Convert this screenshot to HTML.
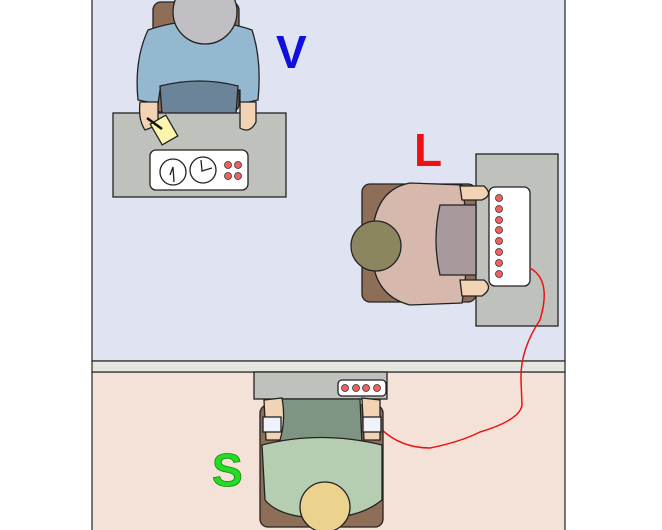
<!DOCTYPE html>
<html><head><style>html,body{margin:0;padding:0;background:#fff}svg{display:block}</style></head><body>
<svg width="662" height="530" viewBox="0 0 662 530" xmlns="http://www.w3.org/2000/svg" stroke="#222" stroke-width="1.3">
<rect x="92" y="-2" width="473" height="363" fill="#dfe3f2" stroke="#333"/>
<rect x="92" y="372" width="473" height="160" fill="#f4e2d8" stroke="#333"/>
<rect x="92" y="361" width="473" height="11" fill="#e4e6e0" stroke="#333"/>
<!-- V -->
<rect x="153" y="2" width="86" height="110" rx="8" fill="#8f6e57"/>
<path d="M148 30 Q200 12 252 30 Q262 60 258 100 L240 104 L240 90 L160 90 L158 104 L138 100 Q134 60 148 30 Z" fill="#93b8cf"/>
<path d="M160 86 Q200 76 238 86 L236 114 L162 114 Z" fill="#6b8499"/>
<circle cx="205" cy="12" r="32" fill="#c0c0c4"/>
<rect x="113" y="113" width="173" height="84" fill="#bfc1bd"/>
<path d="M140 102 Q138 120 145 130 L158 125 L158 102 Z" fill="#f2d4b4"/>
<path d="M240 102 L240 128 Q250 134 256 122 L256 102 Z" fill="#f2d4b4"/>
<rect x="155" y="118" width="18" height="24" fill="#fcf6ad" transform="rotate(-30 164 130)"/>
<line x1="147" y1="118" x2="162" y2="129" stroke="#111" stroke-width="2.5"/>
<rect x="150" y="150" width="98" height="40" rx="6" fill="#fff"/>
<circle cx="173" cy="172" r="13" fill="#fff"/><path d="M170 175 L173 167 L174 182" fill="none"/>
<circle cx="203" cy="170" r="13" fill="#fff"/><path d="M201 160 L202 171 L212 168" fill="none"/>
<g fill="#f06060" stroke="#333" stroke-width="0.8"><circle cx="228" cy="165" r="3.5"/><circle cx="238" cy="165" r="3.5"/><circle cx="228" cy="176" r="3.5"/><circle cx="238" cy="176" r="3.5"/></g>
<text x="276" y="68" font-family="Liberation Sans, sans-serif" font-weight="bold" font-size="46" fill="#1010dd" stroke="none">V</text>
<!-- L -->
<text x="414" y="166" font-family="Liberation Sans, sans-serif" font-weight="bold" font-size="46" fill="#ee1111" stroke="none">L</text>
<rect x="362" y="184" width="114" height="118" rx="8" fill="#8f6e57"/>
<rect x="476" y="154" width="82" height="172" fill="#bfc1bd"/>
<path d="M410 183 L462 185 Q472 245 462 303 L410 305 Q370 295 372 244 Q372 190 410 183 Z" fill="#d6b8ac"/>
<path d="M440 205 L476 205 L476 275 L440 275 Q432 240 440 205 Z" fill="#a8999c"/>
<path d="M460 186 L484 186 Q494 195 482 200 L462 200 Z" fill="#f2d4b4"/>
<path d="M460 280 L484 280 Q494 288 482 296 L462 296 Z" fill="#f2d4b4"/>
<circle cx="376" cy="246" r="25" fill="#8b8560"/>
<rect x="489" y="187" width="41" height="99" rx="6" fill="#fff"/>
<g fill="#f06060" stroke="#333" stroke-width="0.8"><circle cx="499" cy="198" r="3.5"/><circle cx="499" cy="209" r="3.5"/><circle cx="499" cy="220" r="3.5"/><circle cx="499" cy="230" r="3.5"/><circle cx="499" cy="241" r="3.5"/><circle cx="499" cy="252" r="3.5"/><circle cx="499" cy="263" r="3.5"/><circle cx="499" cy="274" r="3.5"/></g>
<path d="M530 268 Q552 280 540 320 Q520 350 521 380 L522 405 Q520 420 480 432 Q460 442 430 448 Q400 448 380 428" fill="none" stroke="#ee1111" stroke-width="1.5"/>
<!-- S -->
<rect x="260" y="405" width="123" height="122" rx="8" fill="#8f6e57"/>
<rect x="254" y="372" width="133" height="27" fill="#bfc1bd"/>
<rect x="338" y="380" width="48" height="16" rx="4" fill="#fff"/>
<g fill="#f06060" stroke="#333" stroke-width="0.8"><circle cx="345" cy="388" r="3.5"/><circle cx="356" cy="388" r="3.5"/><circle cx="366" cy="388" r="3.5"/><circle cx="377" cy="388" r="3.5"/></g>
<path d="M280 399 L360 399 L362 445 L280 445 Z" fill="#7f9483"/>
<path d="M262 445 Q320 430 382 445 L382 500 Q360 518 322 518 Q280 518 265 500 Z" fill="#b5cdb0"/>
<path d="M264 400 L282 398 Q286 420 280 440 L266 440 Z" fill="#f2d4b4"/>
<path d="M362 398 L380 400 L380 440 L364 440 Z" fill="#f2d4b4"/>
<rect x="263" y="417" width="18" height="15" fill="#eef2fa"/>
<rect x="363" y="417" width="18" height="15" fill="#eef2fa"/>
<circle cx="325" cy="507" r="25" fill="#ecd38d"/>
<text x="212" y="486" font-family="Liberation Sans, sans-serif" font-weight="bold" font-size="46" fill="#22dd22" stroke="#118811" stroke-width="0.8">S</text>
</svg>
</body></html>
